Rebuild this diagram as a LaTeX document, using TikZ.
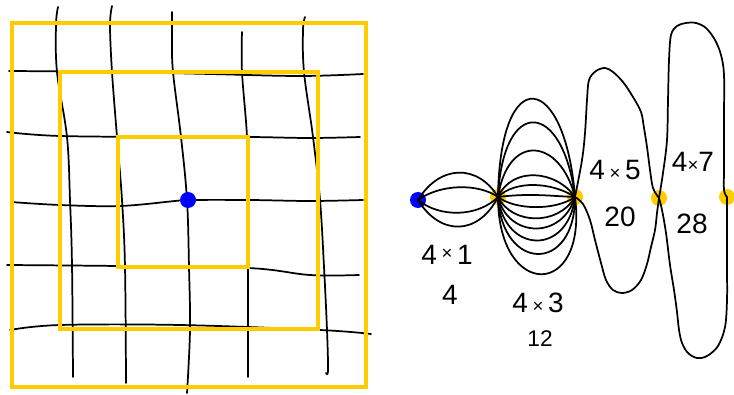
\documentclass[tikz,border=0pt]{standalone}
\usepackage{fontspec}
\setmainfont{Liberation Sans}
\definecolor{gold}{RGB}{255,204,0}
\definecolor{dotblue}{RGB}{0,0,255}
\begin{document}
\begin{tikzpicture}[x=0.75pt,y=-0.75pt,
  sq/.style={draw=gold,line width=3pt},
  ink/.style={draw=black,line width=1.3pt,line cap=round,line join=round},
  bdot/.style={circle,fill=dotblue,inner sep=0pt,minimum size=12pt},
  ydot/.style={circle,fill=gold,inner sep=0pt,minimum size=12pt},
  lab/.style={font=\fontsize{21}{21}\selectfont,inner sep=0pt}]
\useasboundingbox (0,0) rectangle (734,395);
% ---------- grid (left) ----------
\draw[ink] plot[smooth,tension=0.6] coordinates {(9,71) (120,72) (210,74) (300,76) (363,74)};
\draw[ink] plot[smooth,tension=0.6] coordinates {(7,132) (60,136) (180,137) (250,137) (310,138) (360,137)};
\draw[ink] plot[smooth,tension=0.6] coordinates {(11,202) (60,205) (120,206) (175,201) (188,200) (250,200) (310,201) (363,200)};
\draw[ink] plot[smooth,tension=0.6] coordinates {(7,265) (118,266) (248,268) (310,275) (359,275)};
\draw[ink] plot[smooth,tension=0.6] coordinates {(10,330) (60,325) (180,325) (320,330) (371,334)};
\draw[ink] plot[smooth,tension=0.6] coordinates {(58,7) (56,25) (57,72) (67,137) (70,200) (72,265) (73,377)};
\draw[ink] plot[smooth,tension=0.6] coordinates {(112,6) (110,25) (112,72) (117,137) (122,200) (125,267) (126,383)};
\draw[ink] plot[smooth,tension=0.6] coordinates {(172,12) (172,40) (173,72) (181,137) (187,200) (189,267) (190,330) (187,393)};
\draw[ink] plot[smooth,tension=0.6] coordinates {(242,32) (242,72) (247,137) (248,200) (248,267) (248,377)};
\draw[ink] plot[smooth,tension=0.6] coordinates {(305,17) (303,30) (304,72) (313,137) (320,200) (324,267) (327,330) (328,370) (326,373)};
% ---------- squares ----------
\draw[sq] (12,23) rectangle (366,387);
\draw[sq] (60,72) rectangle (318,329);
\draw[sq] (118,137) rectangle (248,267);
\node[bdot] (c) at (188,200) {};
% ---------- dots (right) ----------
\node[bdot] (b) at (418,200) {};
\node[ydot] (y1) at (498,197) {};
\node[ydot] (y2) at (575,197) {};
\node[ydot] (y3) at (659,198) {};
\node[ydot] (y4) at (727,197) {};
% ---------- 4x1 lens ----------
\draw[ink] (b.center) .. controls (440,164) and (478,164) .. (y1.center);
\draw[ink] (b.center) .. controls (440,184) and (478,183) .. (y1.center);
\draw[ink] (b.center) .. controls (440,218) and (478,217) .. (y1.center);
\draw[ink] (b.center) .. controls (440,236) and (478,236) .. (y1.center);
% ---------- 4x3 loops ----------
\draw[ink] (y1.center) .. controls (500,60) and (565,72) .. (y2.center);
\draw[ink] (y1.center) .. controls (503,95) and (563,100) .. (y2.center);
\draw[ink] (y1.center) .. controls (508,132) and (560,138) .. (y2.center);
\draw[ink] (y1.center) .. controls (512,166) and (556,170) .. (y2.center);
\draw[ink] (y1.center) .. controls (515,180) and (552,182) .. (y2.center);
\draw[ink] (y1.center) .. controls (530,193) and (550,196) .. (y2.center);
\draw[ink] (y1.center) .. controls (515,210) and (555,211) .. (y2.center);
\draw[ink] (y1.center) .. controls (512,225) and (558,226) .. (y2.center);
\draw[ink] (y1.center) .. controls (508,238) and (562,240) .. (y2.center);
\draw[ink] (y1.center) .. controls (505,254) and (568,256) .. (y2.center);
\draw[ink] (y1.center) .. controls (502,272) and (575,274) .. (y2.center);
\draw[ink] (y1.center) .. controls (498,300) and (588,300) .. (y2.center);
% ---------- 4x5 loop ----------
\draw[ink] plot[smooth,tension=0.55] coordinates {(y2.center) (582,160) (585,133) (587,100) (589,80) (596,71) (605,68) (613,72) (623,82) (633,97) (641,112) (644,128) (647,147) (650,170) (653,188) (y3.center)};
\draw[ink] plot[smooth,tension=0.55] coordinates {(y3.center) (657,213) (655,230) (651,247) (647,264) (641,280) (632,290) (622,293) (613,290) (606,280) (601,263) (595,240) (590,220) (583,204) (y2.center)};
% ---------- 4x7 loop ----------
\draw[ink] plot[smooth,tension=0.55] coordinates {(y3.center) (663,173) (667,140) (668,100) (669,60) (671,35) (677,26) (686,23) (696,23) (706,28) (715,40) (721,55) (724,75) (724,117) (724,167) (724,190) (y4.center)};
\draw[ink] plot[smooth,tension=0.55] coordinates {(y4.center) (727,233) (727,267) (727,300) (725,327) (718,346) (707,356) (697,358) (688,353) (682,343) (679,330) (677,312) (674,290) (670,265) (666,233) (662,210) (y3.center)};
% ---------- labels ----------
\node[lab] (l41) at (447,255) {4\,{\fontsize{14}{14}\selectfont\raisebox{0.5ex}{×}}\,1};
\node[lab] (l4) at (450,295) {4};
\node[lab] (l43) at (538,303) {4\,{\fontsize{14}{14}\selectfont ×}\,3};
\node[lab,font=\fontsize{17}{17}\selectfont] (l12) at (540,339) {12};
\node[lab] (l45) at (615,170) {4\,{\fontsize{14}{14}\selectfont ×}\,5};
\node[lab] (l20) at (620,217) {20};
\node[lab] (l47) at (693,162) {4{\fontsize{14}{14}\selectfont ×}7};
\node[lab] (l28) at (692,224) {28};
\end{tikzpicture}
\end{document}
